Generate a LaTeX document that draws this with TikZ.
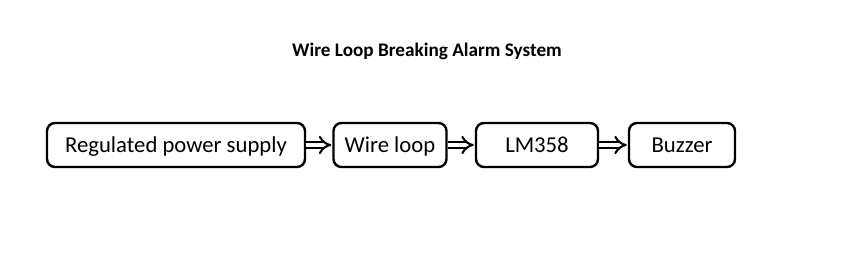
\documentclass[tikz,border=0pt]{standalone}
\usepackage{fontspec}
\setmainfont{Carlito}
\usetikzlibrary{arrows.meta}
\begin{document}
\begin{tikzpicture}[x=1pt,y=-1pt,
  blk/.style={draw, line width=2.4pt, rounded corners=8pt, inner sep=0pt, text height=18pt, text depth=4pt, font=\fontsize{22.7}{26}\selectfont},
  conn/.style={double, double distance=4pt, line width=2.1pt, -{Implies}, shorten >=1pt}]
\useasboundingbox (0,0) rectangle (853,265);
\node[font=\bfseries\fontsize{19.2}{22}\selectfont] (title) at (427,51) {Wire Loop Breaking Alarm System};
\node[blk, minimum width=258pt, minimum height=44pt] (a) at (176,145) {Regulated power supply};
\node[blk, minimum width=113pt, minimum height=44pt] (b) at (390,145) {Wire loop};
\node[blk, minimum width=122pt, minimum height=44pt] (c) at (537,145) {LM358};
\node[blk, minimum width=106pt, minimum height=44pt] (d) at (682,145) {Buzzer};
\draw[conn] (a.east) -- (b.west);
\draw[conn] (b.east) -- (c.west);
\draw[conn] (c.east) -- (d.west);
\end{tikzpicture}
\end{document}
